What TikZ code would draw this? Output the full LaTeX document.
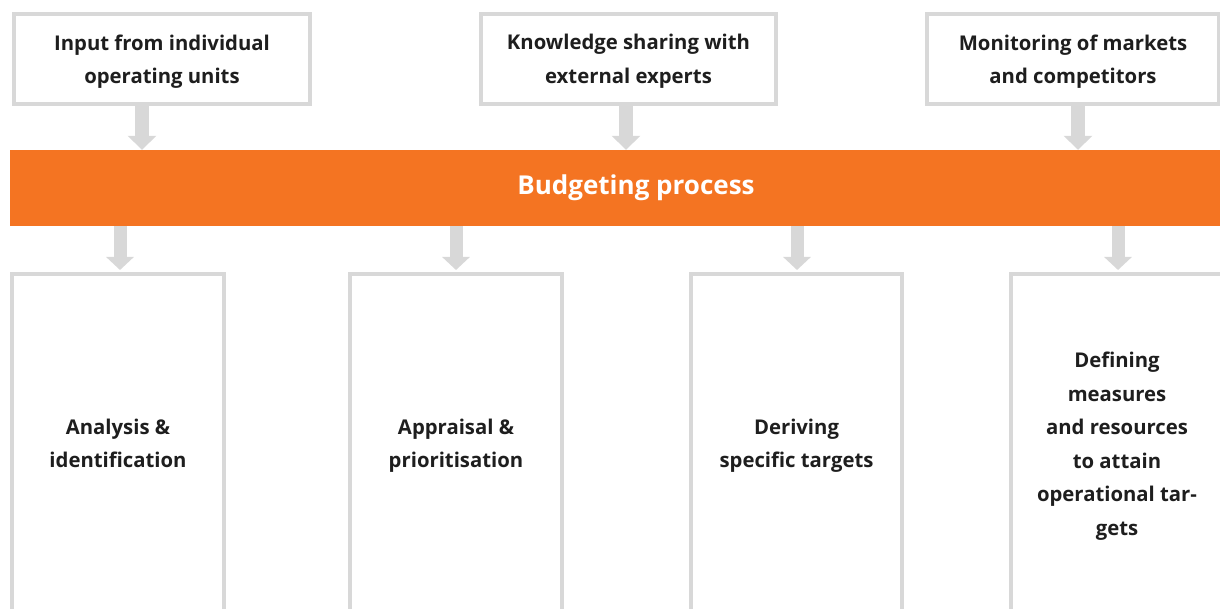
\documentclass[tikz,border=0pt]{standalone}
\usepackage{fontspec}
\setmainfont{Open Sans}
\usetikzlibrary{arrows.meta}
\definecolor{boxgray}{HTML}{D8D8D8}
\definecolor{budorange}{HTML}{F47422}
\definecolor{txt}{HTML}{1E1E1E}
\newcommand\linestrut{\rule{0pt}{33.5pt}}
\tikzset{
  inbox/.style={draw=boxgray, line width=4pt, fill=white, inner sep=0pt,
    align=center, text=txt, font=\bfseries\fontsize{20.3}{33.5}\selectfont,
    text depth=0pt,
    execute at begin node=\linestrut, execute at end node=\linestrut},
  bar/.style={fill=budorange, draw=none, inner sep=0pt, text=white,
    font=\bfseries\fontsize{26}{30}\selectfont},
  flowin/.style={draw=boxgray, line width=14pt, -{Triangle[length=14pt,width=28pt]}},
  flowout/.style={draw=boxgray, line width=13pt, -{Triangle[length=13pt,width=27pt]}},
}
\begin{document}
\begin{tikzpicture}[x=1pt,y=1pt]
\useasboundingbox (0,0) rectangle (1220,608);
\clip (0,0) rectangle (1220,608);
% top input boxes
\node[inbox, minimum width=296pt, minimum height=90pt] (in1) at (162,549) {Input from individual\\operating units};
\node[inbox, minimum width=295pt, minimum height=90pt] (in2) at (628.5,549) {Knowledge sharing with\\external experts};
\node[inbox, minimum width=292pt, minimum height=90pt] (in3) at (1073,549) {Monitoring of markets\\and competitors};
% budgeting bar
\node[bar, minimum width=1252pt, minimum height=76pt] (bud) at (636,420) {Budgeting process};
% bottom boxes
\node[inbox, minimum width=212pt, minimum height=339pt] (out1) at (118,164.5) {Analysis \&\\identification};
\node[inbox, minimum width=212pt, minimum height=339pt] (out2) at (456,164.5) {Appraisal \&\\prioritisation};
\node[inbox, minimum width=211pt, minimum height=339pt] (out3) at (796.5,164.5) {Deriving\\specific targets};
\node[inbox, minimum width=212pt, minimum height=339pt] (out4) at (1117,164.5) {Defining\\measures\\and resources\\to attain\\operational tar-\\gets};
% arrow axes
\coordinate (a1) at (142,0);
\coordinate (a2) at (626,0);
\coordinate (a3) at (1078,0);
\coordinate (b1) at (120,0);
\coordinate (b2) at (456,0);
\coordinate (b3) at (797,0);
\coordinate (b4) at (1118,0);
% connectors
\draw[flowin] (in1.south -| a1) -- (bud.north -| a1);
\draw[flowin] (in2.south -| a2) -- (bud.north -| a2);
\draw[flowin] (in3.south -| a3) -- (bud.north -| a3);
\draw[flowout] (bud.south -| b1) -- ([yshift=2pt]out1.north -| b1);
\draw[flowout] (bud.south -| b2) -- ([yshift=2pt]out2.north -| b2);
\draw[flowout] (bud.south -| b3) -- ([yshift=2pt]out3.north -| b3);
\draw[flowout] (bud.south -| b4) -- ([yshift=2pt]out4.north -| b4);
\end{tikzpicture}
\end{document}
